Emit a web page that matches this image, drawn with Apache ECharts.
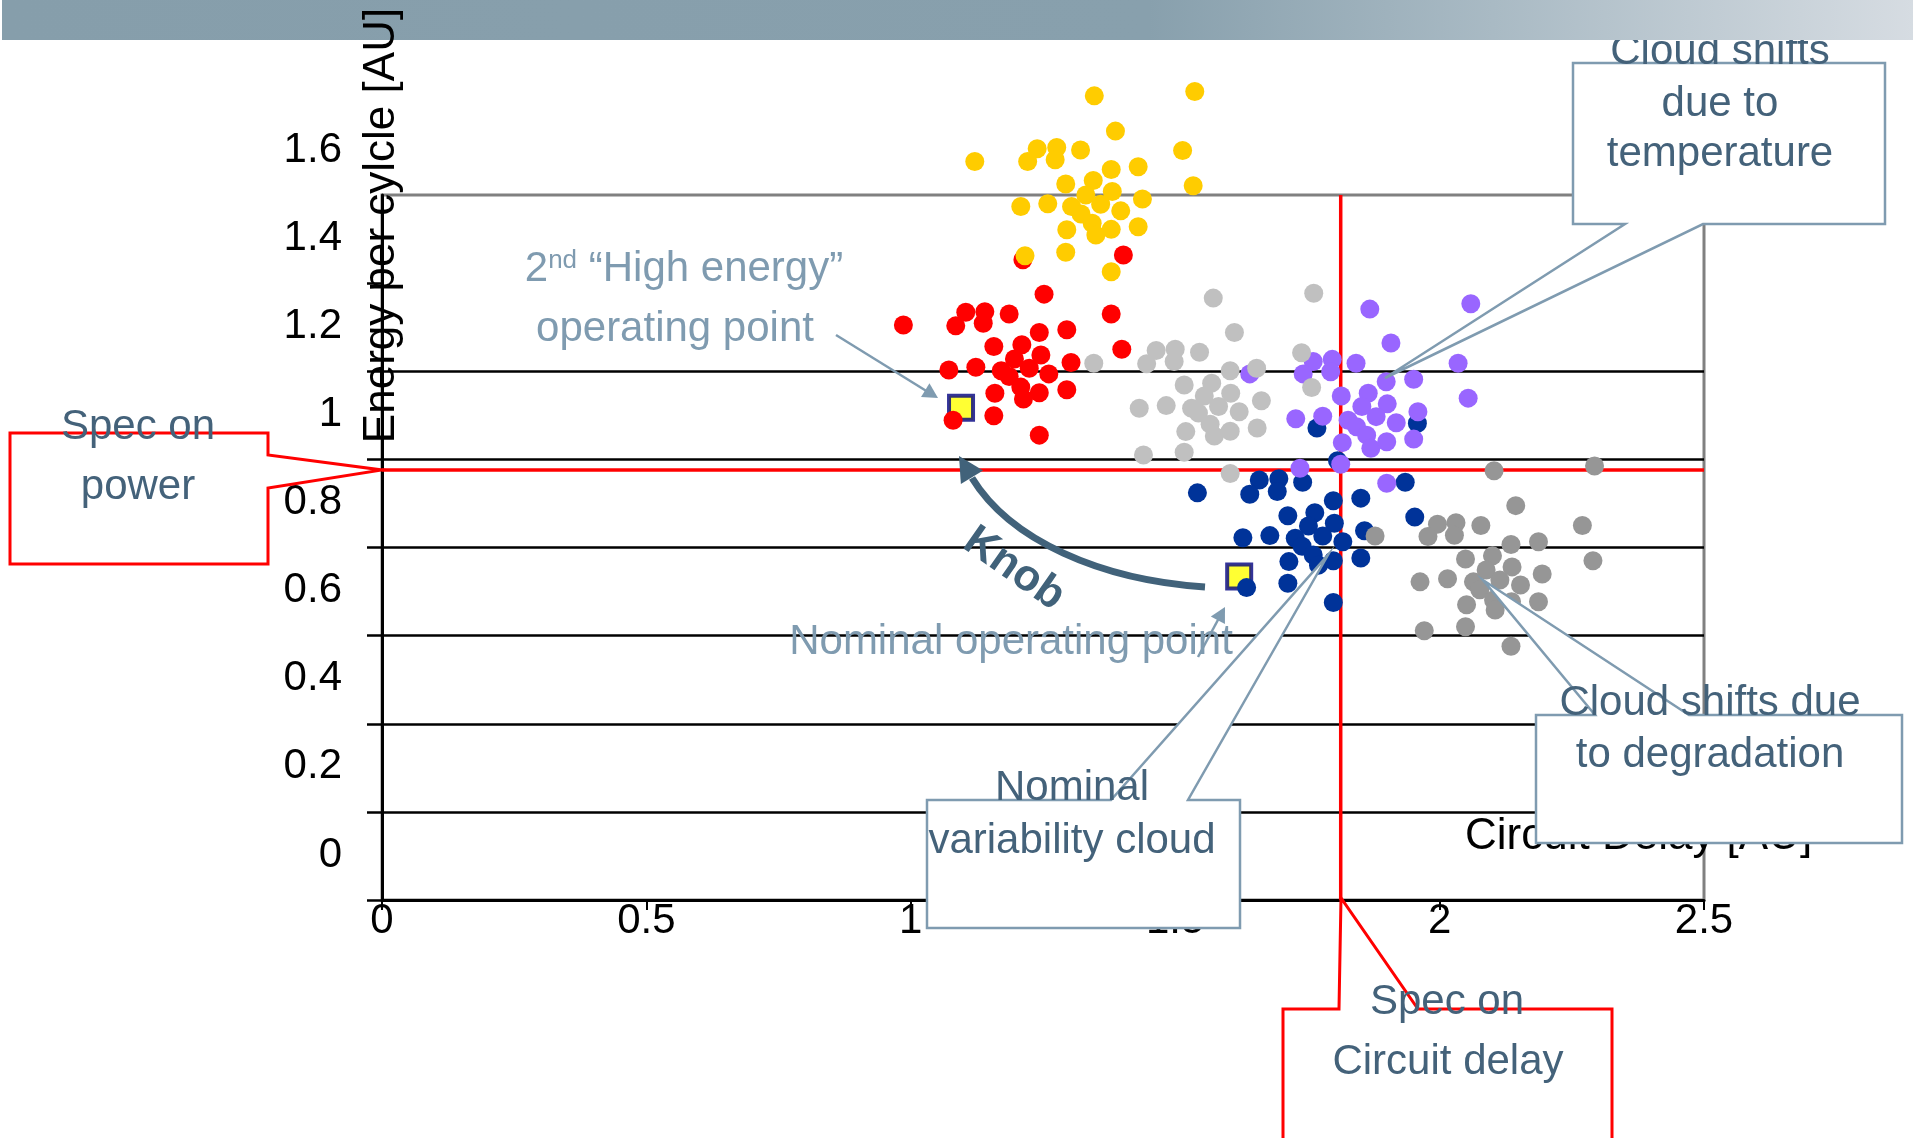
<!DOCTYPE html>
<html>
<head>
<meta charset="utf-8">
<script src="https://cdn.jsdelivr.net/npm/echarts@6/dist/echarts.min.js"></script>
<style>
  html, body { margin: 0; padding: 0; background: #fff; }
  #chart { width: 1913px; height: 1138px; }
</style>
</head>
<body>
<div id="chart"></div>
<script>
// axis ticks
const xTickLabels = ['0', '0.5', '1', '1.5', '2', '2.5']
const yTickLabels = ['0', '0.2', '0.4', '0.6', '0.8', '1', '1.2', '1.4', '1.6']
const yTickValues = [0, 0.2, 0.4, 0.6, 0.8, 1, 1.2, 1.4]

// spec limits
const specPower = 0.976
const specDelay = 1.813

// operating points (yellow squares)
const nominalPoint = [[1.621, 0.734]]
const highEnergyPoint = [[1.095, 1.117]]

// clouds
const yellowCloud = [
  [1.347, 1.825], [1.537, 1.835], [1.387, 1.745], [1.121, 1.676], [1.239, 1.705], [1.276, 1.708],
  [1.221, 1.676], [1.273, 1.680], [1.321, 1.702], [1.514, 1.701], [1.379, 1.658], [1.430, 1.664],
  [1.293, 1.625], [1.345, 1.633], [1.534, 1.621], [1.331, 1.600], [1.381, 1.608], [1.208, 1.574],
  [1.259, 1.580], [1.304, 1.574], [1.359, 1.579], [1.438, 1.591], [1.322, 1.557], [1.397, 1.564],
  [1.343, 1.536], [1.295, 1.521], [1.379, 1.522], [1.430, 1.528], [1.350, 1.509], [1.293, 1.470],
  [1.216, 1.462], [1.379, 1.426]
]
const redCloud = [
  [1.212, 1.453], [1.402, 1.464], [1.252, 1.375], [0.986, 1.305], [1.104, 1.334], [1.140, 1.335],
  [1.085, 1.303], [1.137, 1.309], [1.186, 1.330], [1.379, 1.330], [1.243, 1.288], [1.295, 1.294],
  [1.157, 1.256], [1.210, 1.260], [1.246, 1.237], [1.399, 1.250], [1.196, 1.228], [1.072, 1.203],
  [1.123, 1.209], [1.171, 1.201], [1.224, 1.207], [1.303, 1.220], [1.186, 1.188], [1.261, 1.194],
  [1.208, 1.164], [1.159, 1.150], [1.243, 1.151], [1.295, 1.158], [1.213, 1.137], [1.080, 1.089],
  [1.157, 1.099], [1.243, 1.055]
]
const lightGrayCloud = [
  [1.346, 1.218], [1.464, 1.247], [1.500, 1.250], [1.446, 1.217], [1.498, 1.222], [1.546, 1.243],
  [1.572, 1.366], [1.612, 1.288], [1.604, 1.201], [1.517, 1.169], [1.569, 1.173], [1.605, 1.150],
  [1.555, 1.144], [1.432, 1.116], [1.483, 1.122], [1.531, 1.116], [1.582, 1.120], [1.621, 1.108],
  [1.544, 1.105], [1.566, 1.080], [1.520, 1.063], [1.574, 1.053], [1.604, 1.064], [1.440, 1.010],
  [1.517, 1.016], [1.762, 1.377], [1.739, 1.242], [1.654, 1.207], [1.758, 1.163], [1.663, 1.133],
  [1.655, 1.071], [1.604, 0.968]
]
const purpleCloud = [
  [1.868, 1.341], [2.059, 1.353], [1.908, 1.264], [2.035, 1.218], [2.054, 1.139], [1.761, 1.222],
  [1.797, 1.227], [1.842, 1.218], [1.742, 1.194], [1.794, 1.199], [1.641, 1.194], [1.899, 1.176],
  [1.951, 1.182], [1.814, 1.144], [1.865, 1.150], [1.901, 1.126], [1.853, 1.120], [1.728, 1.092],
  [1.779, 1.098], [1.827, 1.089], [1.880, 1.097], [1.918, 1.083], [1.959, 1.108], [1.843, 1.074],
  [1.862, 1.055], [1.816, 1.038], [1.870, 1.025], [1.900, 1.040], [1.951, 1.046], [1.736, 0.980],
  [1.813, 0.989], [1.900, 0.946]
]
const blueCloud = [
  [1.768, 1.071], [1.958, 1.082], [1.807, 0.997], [1.542, 0.924], [1.659, 0.953], [1.696, 0.956],
  [1.641, 0.921], [1.693, 0.927], [1.741, 0.948], [1.935, 0.948], [1.799, 0.906], [1.851, 0.912],
  [1.713, 0.872], [1.764, 0.879], [1.953, 0.869], [1.752, 0.849], [1.801, 0.855], [1.858, 0.838],
  [1.628, 0.822], [1.679, 0.827], [1.727, 0.821], [1.779, 0.826], [1.740, 0.803], [1.817, 0.813],
  [1.761, 0.783], [1.715, 0.768], [1.799, 0.770], [1.851, 0.776], [1.771, 0.760], [1.713, 0.719],
  [1.635, 0.709], [1.799, 0.675]
]
const darkGrayCloud = [
  [2.103, 0.974], [2.293, 0.985], [1.878, 0.826], [2.144, 0.895], [2.270, 0.850], [1.996, 0.853],
  [2.031, 0.856], [2.078, 0.850], [1.978, 0.825], [2.028, 0.828], [2.135, 0.807], [2.187, 0.813],
  [2.290, 0.770], [2.049, 0.774], [2.100, 0.781], [2.137, 0.756], [2.088, 0.749], [2.194, 0.740],
  [1.963, 0.722], [2.015, 0.729], [2.064, 0.722], [2.114, 0.726], [2.153, 0.715], [2.076, 0.704],
  [2.136, 0.677], [2.187, 0.677], [2.051, 0.670], [2.102, 0.681], [2.105, 0.658], [1.971, 0.611],
  [2.049, 0.620], [2.135, 0.576]
]

const FONT = 'Liberation Sans, Arial, sans-serif'
const slate = '#44627a'
const steel = '#7f9bb0'

// arrow head triangle, tip + direction
const arrowHead = (tx, ty, dx, dy, len, hw) => {
  const n = Math.hypot(dx, dy)
  dx /= n; dy /= n
  const bx = tx - dx * len
  const by = ty - dy * len
  return [[tx, ty], [bx - dy * hw, by + dx * hw], [bx + dy * hw, by - dx * hw]]
}

const label = (text, x, y, color, size = 42, z = 4) => ({
  type: 'text', x, y, z,
  style: { text, fontSize: size, fontFamily: FONT, fill: color, align: 'center', verticalAlign: 'middle' }
})

const callout = (points, stroke, width) => ({
  type: 'polygon', z: 3,
  shape: { points },
  style: { fill: '#fff', stroke, lineWidth: width, lineJoin: 'miter' }
})

const dots = (data, color) => ({
  type: 'scatter', data, symbolSize: 19, clip: false, silent: true,
  itemStyle: { color, opacity: 1 }
})

const chart = echarts.init(document.getElementById('chart'), null, { renderer: 'canvas' })

chart.setOption({
  animation: false,
  backgroundColor: '#fff',
  grid: {
    left: 382, top: 195, width: 1322, height: 705,
    show: true, borderColor: '#808080', borderWidth: 3, backgroundColor: 'transparent',
    outerBoundsMode: 'none'
  },
  xAxis: {
    type: 'value', min: 0, max: 2.5, interval: 0.5,
    name: 'Circuit Delay [AU]', nameLocation: 'end', nameGap: -239, nameMoveOverlap: false,
    nameTextStyle: { fontSize: 44, color: '#000', fontFamily: FONT, align: 'left', verticalAlign: 'bottom', padding: [0, 0, 41, 0] },
    axisLine: { show: true, onZero: false, lineStyle: { color: '#000', width: 3 } },
    axisTick: { show: true, length: 10, lineStyle: { color: '#000', width: 2 } },
    axisLabel: { fontSize: 42, color: '#000', fontFamily: FONT, margin: 0, formatter: (v, i) => xTickLabels[i] },
    splitLine: { show: false }
  },
  yAxis: [
    {
      type: 'value', min: 0, max: 1.6, interval: 0.2,
      axisLine: { show: true, onZero: false, lineStyle: { color: '#000', width: 3 } },
      axisTick: { show: true, length: 15, customValues: yTickValues, lineStyle: { color: '#000', width: 2.5 } },
      // labels sit half a step above their lines in the original
      axisLabel: {
        fontSize: 42, color: '#000', fontFamily: FONT, margin: 40,
        verticalAlign: 'bottom', padding: [0, 0, 24, 0],
        formatter: (v, i) => yTickLabels[i]
      },
      splitLine: { show: true, showMaxLine: false, lineStyle: { color: '#000', width: 2.5 } }
    },
    {
      // only carries the axis title, drawn above the header band
      type: 'value', min: 0, max: 1.6, position: 'left', z: 6,
      name: 'Energy per cylcle [AU]', nameLocation: 'middle', nameGap: -22, nameRotate: 90, nameMoveOverlap: false,
      nameTextStyle: { fontSize: 44, color: '#000', fontFamily: FONT, padding: [0, 0, 0, 644] },
      axisLine: { show: false }, axisTick: { show: false }, axisLabel: { show: false }, splitLine: { show: false }
    }
  ],
  series: [
    {
      type: 'line', data: [[0, specPower], [2.5, specPower]], symbol: 'none', z: 1, silent: true, clip: false,
      lineStyle: { color: '#ff0000', width: 3.5 }
    },
    {
      type: 'line', data: [[specDelay, 0], [specDelay, 1.6]], symbol: 'none', z: 1, silent: true, clip: false,
      lineStyle: { color: '#ff0000', width: 3.5 }
    },
    {
      type: 'scatter', data: nominalPoint.concat(highEnergyPoint), symbol: 'rect', symbolSize: 24, clip: false, silent: true,
      itemStyle: { color: '#ffff00', borderColor: '#000080', borderWidth: 4 }
    },
    dots(redCloud, '#ff0000'),
    dots(blueCloud, '#003399'),
    dots(purpleCloud, '#9966ff'),
    dots(lightGrayCloud, '#c0c0c0'),
    dots(darkGrayCloud, '#969696'),
    dots(yellowCloud, '#ffcc00')
  ],
  graphic: [
    // header band
    {
      type: 'rect', z: 5,
      shape: { x: 2, y: 0, width: 1911, height: 40 },
      style: {
        fill: new echarts.graphic.LinearGradient(0, 0, 1, 0, [
          { offset: 0, color: '#869eab' },
          { offset: 0.6, color: '#88a0ad' },
          { offset: 0.78, color: '#a9bac4' },
          { offset: 1, color: '#d6dce2' }
        ])
      }
    },

    // spec on power
    callout([[10, 433], [268, 433], [268, 455], [382, 470], [268, 488], [268, 564], [10, 564]], '#ff0000', 3),
    label('Spec on', 138, 427, slate),
    label('power', 138, 487, slate),

    // spec on circuit delay
    callout([[1283, 1009], [1339, 1009], [1341, 898], [1418, 1009], [1612, 1009], [1612, 1160], [1283, 1160]], '#ff0000', 3),
    label('Spec on', 1447, 1002, slate),
    label('Circuit delay', 1448, 1062, slate),

    // nominal variability cloud
    callout([[927, 800], [1111, 800], [1328, 555], [1188, 800], [1240, 800], [1240, 928], [927, 928]], steel, 2.5),
    label('Nominal', 1072, 788, slate),
    label('variability cloud', 1072, 841, slate),

    // degradation
    callout([[1536, 715], [1595, 715], [1483, 580], [1689, 715], [1902, 715], [1902, 843], [1536, 843]], steel, 2.5),
    label('Cloud shifts due', 1710, 703, slate),
    label('to degradation', 1710, 755, slate),

    // temperature
    callout([[1573, 63], [1885, 63], [1885, 224], [1703, 224], [1385, 378], [1625, 224], [1573, 224]], steel, 2.5),
    label('Cloud shifts', 1720, 52, slate),
    label('due to', 1720, 104, slate),
    label('temperature', 1720, 154, slate),

    // 2nd high energy operating point
    {
      type: 'text', x: 684, y: 269, z: 4,
      style: {
        text: '{a|2}{s|nd}{a| \u201cHigh energy\u201d}',
        align: 'center', verticalAlign: 'middle',
        rich: {
          a: { fontSize: 42, fontFamily: FONT, fill: steel },
          s: { fontSize: 26, fontFamily: FONT, fill: steel, verticalAlign: 'top' }
        }
      }
    },
    label('operating point', 675, 329, steel),
    {
      type: 'line', z: 3,
      shape: { x1: 836, y1: 335, x2: 928, y2: 392 },
      style: { stroke: steel, lineWidth: 2.5 }
    },
    {
      type: 'polygon', z: 3,
      shape: { points: arrowHead(938, 398, 102, 63, 15, 8) },
      style: { fill: steel }
    },

    // nominal operating point
    label('Nominal operating point', 1011, 642, steel),
    {
      type: 'line', z: 3,
      shape: { x1: 1198, y1: 657, x2: 1219, y2: 618 },
      style: { stroke: steel, lineWidth: 2.5 }
    },
    {
      type: 'polygon', z: 3,
      shape: { points: arrowHead(1225, 607, 27, -50, 15, 8) },
      style: { fill: steel }
    },

    // knob arrow
    {
      type: 'bezierCurve', z: 3,
      shape: { x1: 1205, y1: 587, cpx1: 1100, cpy1: 580, cpx2: 1010, cpy2: 540, x2: 972, y2: 478 },
      style: { stroke: '#41627a', lineWidth: 7, fill: null }
    },
    {
      type: 'polygon', z: 3,
      shape: { points: arrowHead(959, 456, -51, -84, 25, 13) },
      style: { fill: '#41627a' }
    },
    {
      type: 'text', x: 1014, y: 569, z: 4, rotation: -35 * Math.PI / 180,
      style: { text: 'Knob', fontSize: 44, fontWeight: 'bold', fontFamily: FONT, fill: '#41627a', align: 'center', verticalAlign: 'middle' }
    }
  ]
})
</script>
</body>
</html>
